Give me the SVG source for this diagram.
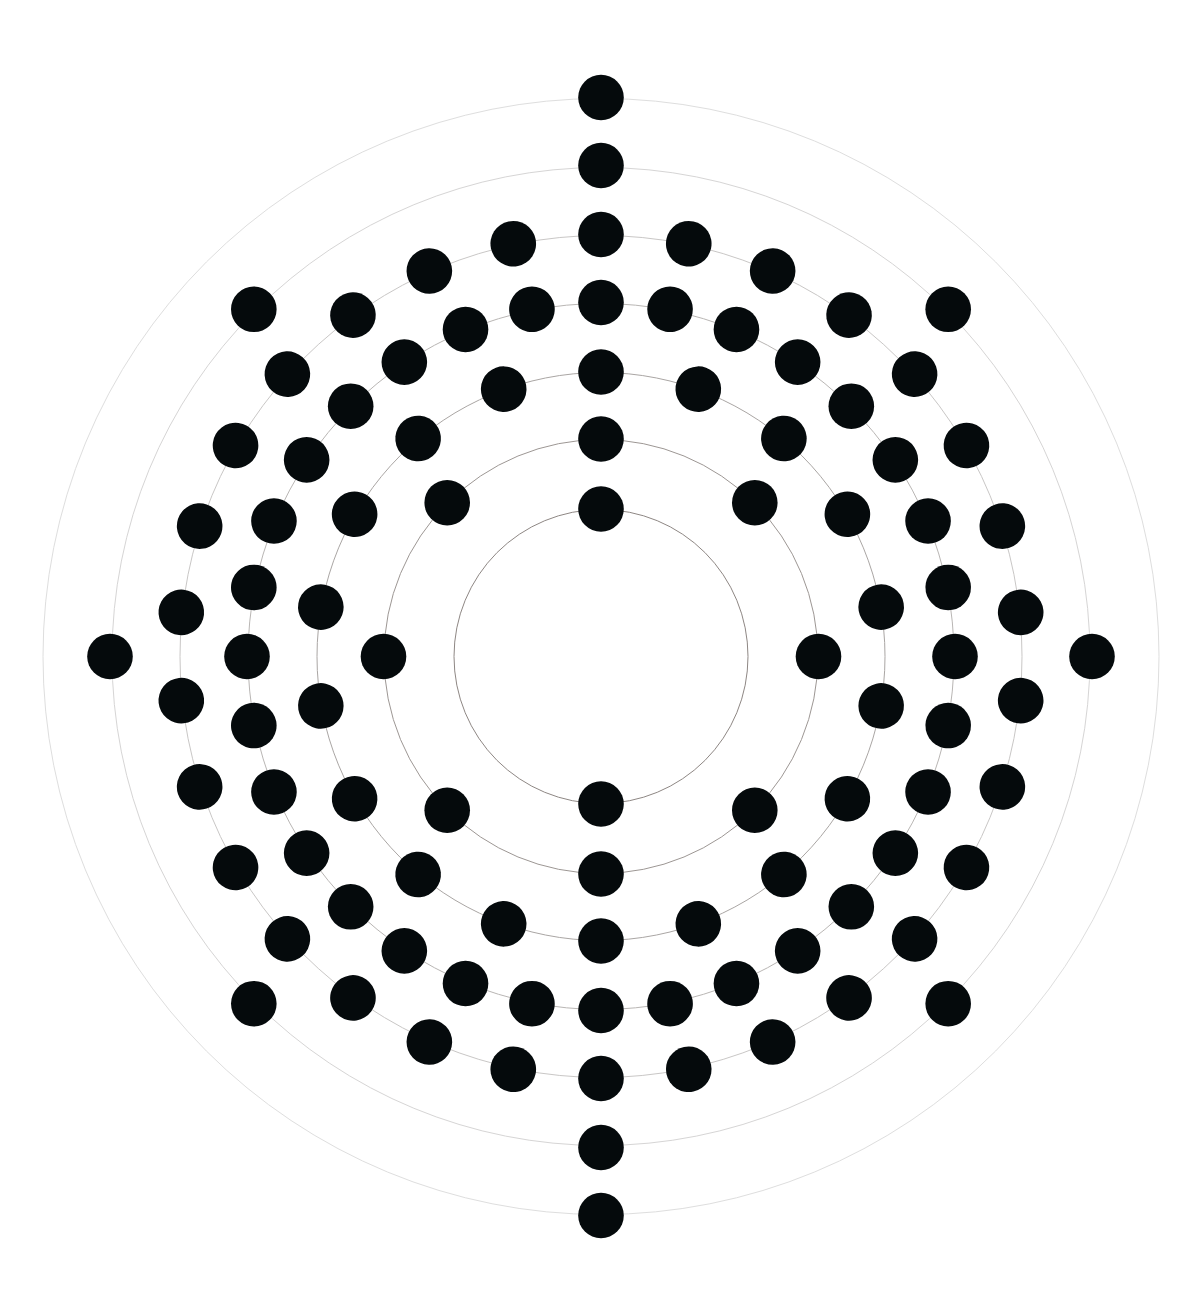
<svg xmlns="http://www.w3.org/2000/svg" xmlns:xlink="http://www.w3.org/1999/xlink" width="1200" height="1315" viewBox="0 0 1200 1315">
<style>
.ring{fill:none;stroke-width:1}
.e{fill:#050a0c}
</style>
<defs>
<circle id="el" class="e" cx="0" cy="0" r="22.8"/>
</defs>
<rect width="1200" height="1315" fill="#ffffff"/>
<g id="connectors">
<circle class="ring" cx="601" cy="656.5" r="147" stroke="#8e8784" stroke-width="1.2"/>
<circle class="ring" cx="601" cy="656.5" r="217" stroke="#9d9794"/>
<circle class="ring" cx="601" cy="656.5" r="284" stroke="#aaa6a4"/>
<circle class="ring" cx="601" cy="656.5" r="353" stroke="#b9b6b4"/>
<circle class="ring" cx="601" cy="656.5" r="421" stroke="#c9c7c6"/>
<circle class="ring" cx="601" cy="656.5" r="489" stroke="#d6d5d5"/>
<circle class="ring" cx="601" cy="656.5" r="558" stroke="#dedede"/>
</g>
<g id="shell1">
<use xlink:href="#el" x="601" y="509" transform="rotate(0 601 656.5)"/>
<use xlink:href="#el" x="601" y="509" transform="rotate(180 601 656.5)"/>
</g>
<g id="shell2">
<use xlink:href="#el" x="601" y="439" transform="rotate(0 601 656.5)"/>
<use xlink:href="#el" x="601" y="439" transform="rotate(45 601 656.5)"/>
<use xlink:href="#el" x="601" y="439" transform="rotate(90 601 656.5)"/>
<use xlink:href="#el" x="601" y="439" transform="rotate(135 601 656.5)"/>
<use xlink:href="#el" x="601" y="439" transform="rotate(180 601 656.5)"/>
<use xlink:href="#el" x="601" y="439" transform="rotate(225 601 656.5)"/>
<use xlink:href="#el" x="601" y="439" transform="rotate(270 601 656.5)"/>
<use xlink:href="#el" x="601" y="439" transform="rotate(315 601 656.5)"/>
</g>
<g id="shell3">
<use xlink:href="#el" x="601" y="372" transform="rotate(0 601 656.5)"/>
<use xlink:href="#el" x="601" y="372" transform="rotate(20 601 656.5)"/>
<use xlink:href="#el" x="601" y="372" transform="rotate(40 601 656.5)"/>
<use xlink:href="#el" x="601" y="372" transform="rotate(60 601 656.5)"/>
<use xlink:href="#el" x="601" y="372" transform="rotate(80 601 656.5)"/>
<use xlink:href="#el" x="601" y="372" transform="rotate(100 601 656.5)"/>
<use xlink:href="#el" x="601" y="372" transform="rotate(120 601 656.5)"/>
<use xlink:href="#el" x="601" y="372" transform="rotate(140 601 656.5)"/>
<use xlink:href="#el" x="601" y="372" transform="rotate(160 601 656.5)"/>
<use xlink:href="#el" x="601" y="372" transform="rotate(180 601 656.5)"/>
<use xlink:href="#el" x="601" y="372" transform="rotate(200 601 656.5)"/>
<use xlink:href="#el" x="601" y="372" transform="rotate(220 601 656.5)"/>
<use xlink:href="#el" x="601" y="372" transform="rotate(240 601 656.5)"/>
<use xlink:href="#el" x="601" y="372" transform="rotate(260 601 656.5)"/>
<use xlink:href="#el" x="601" y="372" transform="rotate(280 601 656.5)"/>
<use xlink:href="#el" x="601" y="372" transform="rotate(300 601 656.5)"/>
<use xlink:href="#el" x="601" y="372" transform="rotate(320 601 656.5)"/>
<use xlink:href="#el" x="601" y="372" transform="rotate(340 601 656.5)"/>
</g>
<g id="shell4">
<use xlink:href="#el" x="601" y="302.5" transform="rotate(0 601 656.5)"/>
<use xlink:href="#el" x="601" y="302.5" transform="rotate(11.25 601 656.5)"/>
<use xlink:href="#el" x="601" y="302.5" transform="rotate(22.5 601 656.5)"/>
<use xlink:href="#el" x="601" y="302.5" transform="rotate(33.75 601 656.5)"/>
<use xlink:href="#el" x="601" y="302.5" transform="rotate(45 601 656.5)"/>
<use xlink:href="#el" x="601" y="302.5" transform="rotate(56.25 601 656.5)"/>
<use xlink:href="#el" x="601" y="302.5" transform="rotate(67.5 601 656.5)"/>
<use xlink:href="#el" x="601" y="302.5" transform="rotate(78.75 601 656.5)"/>
<use xlink:href="#el" x="601" y="302.5" transform="rotate(90 601 656.5)"/>
<use xlink:href="#el" x="601" y="302.5" transform="rotate(101.25 601 656.5)"/>
<use xlink:href="#el" x="601" y="302.5" transform="rotate(112.5 601 656.5)"/>
<use xlink:href="#el" x="601" y="302.5" transform="rotate(123.75 601 656.5)"/>
<use xlink:href="#el" x="601" y="302.5" transform="rotate(135 601 656.5)"/>
<use xlink:href="#el" x="601" y="302.5" transform="rotate(146.25 601 656.5)"/>
<use xlink:href="#el" x="601" y="302.5" transform="rotate(157.5 601 656.5)"/>
<use xlink:href="#el" x="601" y="302.5" transform="rotate(168.75 601 656.5)"/>
<use xlink:href="#el" x="601" y="302.5" transform="rotate(180 601 656.5)"/>
<use xlink:href="#el" x="601" y="302.5" transform="rotate(191.25 601 656.5)"/>
<use xlink:href="#el" x="601" y="302.5" transform="rotate(202.5 601 656.5)"/>
<use xlink:href="#el" x="601" y="302.5" transform="rotate(213.75 601 656.5)"/>
<use xlink:href="#el" x="601" y="302.5" transform="rotate(225 601 656.5)"/>
<use xlink:href="#el" x="601" y="302.5" transform="rotate(236.25 601 656.5)"/>
<use xlink:href="#el" x="601" y="302.5" transform="rotate(247.5 601 656.5)"/>
<use xlink:href="#el" x="601" y="302.5" transform="rotate(258.75 601 656.5)"/>
<use xlink:href="#el" x="601" y="302.5" transform="rotate(270 601 656.5)"/>
<use xlink:href="#el" x="601" y="302.5" transform="rotate(281.25 601 656.5)"/>
<use xlink:href="#el" x="601" y="302.5" transform="rotate(292.5 601 656.5)"/>
<use xlink:href="#el" x="601" y="302.5" transform="rotate(303.75 601 656.5)"/>
<use xlink:href="#el" x="601" y="302.5" transform="rotate(315 601 656.5)"/>
<use xlink:href="#el" x="601" y="302.5" transform="rotate(326.25 601 656.5)"/>
<use xlink:href="#el" x="601" y="302.5" transform="rotate(337.5 601 656.5)"/>
<use xlink:href="#el" x="601" y="302.5" transform="rotate(348.75 601 656.5)"/>
</g>
<g id="shell5">
<use xlink:href="#el" x="601" y="234.5" transform="rotate(0 601 656.5)"/>
<use xlink:href="#el" x="601" y="234.5" transform="rotate(12 601 656.5)"/>
<use xlink:href="#el" x="601" y="234.5" transform="rotate(24 601 656.5)"/>
<use xlink:href="#el" x="601" y="234.5" transform="rotate(36 601 656.5)"/>
<use xlink:href="#el" x="601" y="234.5" transform="rotate(48 601 656.5)"/>
<use xlink:href="#el" x="601" y="234.5" transform="rotate(60 601 656.5)"/>
<use xlink:href="#el" x="601" y="234.5" transform="rotate(72 601 656.5)"/>
<use xlink:href="#el" x="601" y="234.5" transform="rotate(84 601 656.5)"/>
<use xlink:href="#el" x="601" y="234.5" transform="rotate(96 601 656.5)"/>
<use xlink:href="#el" x="601" y="234.5" transform="rotate(108 601 656.5)"/>
<use xlink:href="#el" x="601" y="234.5" transform="rotate(120 601 656.5)"/>
<use xlink:href="#el" x="601" y="234.5" transform="rotate(132 601 656.5)"/>
<use xlink:href="#el" x="601" y="234.5" transform="rotate(144 601 656.5)"/>
<use xlink:href="#el" x="601" y="234.5" transform="rotate(156 601 656.5)"/>
<use xlink:href="#el" x="601" y="234.5" transform="rotate(168 601 656.5)"/>
<use xlink:href="#el" x="601" y="234.5" transform="rotate(180 601 656.5)"/>
<use xlink:href="#el" x="601" y="234.5" transform="rotate(192 601 656.5)"/>
<use xlink:href="#el" x="601" y="234.5" transform="rotate(204 601 656.5)"/>
<use xlink:href="#el" x="601" y="234.5" transform="rotate(216 601 656.5)"/>
<use xlink:href="#el" x="601" y="234.5" transform="rotate(228 601 656.5)"/>
<use xlink:href="#el" x="601" y="234.5" transform="rotate(240 601 656.5)"/>
<use xlink:href="#el" x="601" y="234.5" transform="rotate(252 601 656.5)"/>
<use xlink:href="#el" x="601" y="234.5" transform="rotate(264 601 656.5)"/>
<use xlink:href="#el" x="601" y="234.5" transform="rotate(276 601 656.5)"/>
<use xlink:href="#el" x="601" y="234.5" transform="rotate(288 601 656.5)"/>
<use xlink:href="#el" x="601" y="234.5" transform="rotate(300 601 656.5)"/>
<use xlink:href="#el" x="601" y="234.5" transform="rotate(312 601 656.5)"/>
<use xlink:href="#el" x="601" y="234.5" transform="rotate(324 601 656.5)"/>
<use xlink:href="#el" x="601" y="234.5" transform="rotate(336 601 656.5)"/>
<use xlink:href="#el" x="601" y="234.5" transform="rotate(348 601 656.5)"/>
</g>
<g id="shell6">
<use xlink:href="#el" x="601" y="165.5" transform="rotate(0 601 656.5)"/>
<use xlink:href="#el" x="601" y="165.5" transform="rotate(45 601 656.5)"/>
<use xlink:href="#el" x="601" y="165.5" transform="rotate(90 601 656.5)"/>
<use xlink:href="#el" x="601" y="165.5" transform="rotate(135 601 656.5)"/>
<use xlink:href="#el" x="601" y="165.5" transform="rotate(180 601 656.5)"/>
<use xlink:href="#el" x="601" y="165.5" transform="rotate(225 601 656.5)"/>
<use xlink:href="#el" x="601" y="165.5" transform="rotate(270 601 656.5)"/>
<use xlink:href="#el" x="601" y="165.5" transform="rotate(315 601 656.5)"/>
</g>
<g id="shell7">
<use xlink:href="#el" x="601" y="97.5" transform="rotate(0 601 656.5)"/>
<use xlink:href="#el" x="601" y="97.5" transform="rotate(180 601 656.5)"/>
</g>
</svg>
